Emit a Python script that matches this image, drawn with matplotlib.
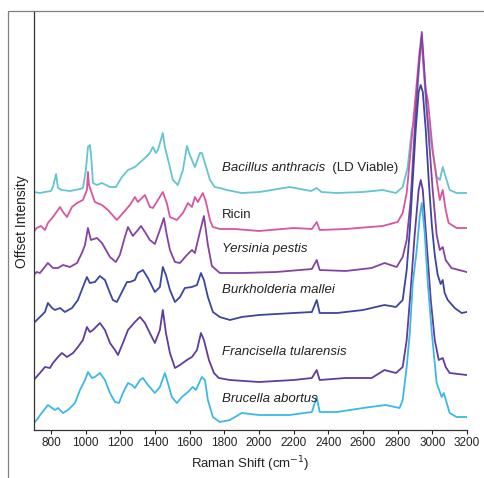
"""
Espectros Raman desplazados de agentes biologicos
"""
import matplotlib
matplotlib.use("Agg")
import matplotlib.pyplot as plt
from matplotlib.lines import Line2D

plt.rcParams['font.family'] = ['Liberation Sans', 'DejaVu Sans']

# Bacillus anthracis (LD Viable)
ba_x = [700, 736, 765, 800, 811, 829, 840, 863, 909, 967, 984, 1001, 1013, 1024, 1032, 1042,
        1065, 1094, 1140, 1174, 1209, 1244, 1284, 1342, 1370, 1388, 1405, 1417, 1445, 1457,
        1480, 1503, 1532, 1561, 1584, 1601, 1630, 1659, 1670, 1688, 1717, 1745, 1774, 1814,
        1900, 2004, 2177, 2300, 2333, 2360, 2448, 2600, 2713, 2790, 2829, 2858, 2881, 2898,
        2916, 2933, 2939, 2950, 2968, 2997, 3025, 3043, 3060, 3077, 3100, 3140, 3198]
ba_y = [238, 237, 238, 239, 243, 256, 242, 240, 239, 241, 242, 260, 283, 285, 273, 247,
        245, 247, 243, 243, 253, 260, 263, 272, 277, 283, 277, 280, 297, 283,
        267, 250, 245, 260, 284, 275, 263, 277, 277, 267, 250, 243, 242, 240,
        237, 238, 243, 239, 242, 238, 237, 238, 240, 237, 243, 263, 300, 310,
        343, 390, 393, 360, 317, 283, 253, 250, 263, 253, 240, 237, 237]

# Ricin
ri_x = [700, 717, 742, 765, 782, 811, 852, 869, 892, 921, 950, 984, 1007, 1013, 1019, 1053,
        1094, 1128, 1180, 1215, 1255, 1284, 1301, 1342, 1370, 1388, 1417, 1445, 1468, 1486,
        1526, 1561, 1590, 1613, 1630, 1647, 1676, 1694, 1717, 1734, 1774, 1860, 2000, 2200,
        2305, 2333, 2350, 2500, 2713, 2800, 2829, 2852, 2870, 2887, 2910, 2927, 2939, 2962,
        2974, 3002, 3031, 3043, 3060, 3077, 3094, 3140, 3198]
ri_y = [198, 202, 204, 200, 207, 213, 223, 218, 213, 223, 227, 230, 240, 258, 245, 228,
        225, 220, 210, 217, 225, 233, 228, 235, 223, 222, 230, 238, 227, 213,
        210, 217, 227, 223, 233, 228, 237, 228, 210, 203, 201, 201, 199, 202,
        201, 208, 200, 201, 204, 208, 217, 237, 270, 303, 347, 380, 385, 340,
        330, 280, 243, 230, 240, 220, 207, 202, 202]

# Yersinia pestis
ye_x = [700, 717, 736, 782, 811, 840, 869, 909, 950, 978, 996, 1013, 1030, 1065, 1094, 1140,
        1174, 1197, 1226, 1244, 1272, 1301, 1319, 1342, 1370, 1399, 1428, 1451, 1468, 1486,
        1515, 1544, 1584, 1613, 1630, 1659, 1682, 1705, 1728, 1774, 1900, 2100, 2305, 2333,
        2350, 2500, 2650, 2724, 2794, 2829, 2852, 2875, 2898, 2916, 2939, 2950, 2968, 2985,
        3002, 3014, 3025, 3043, 3060, 3077, 3110, 3198]
ye_y = [155, 158, 157, 167, 162, 162, 165, 163, 167, 177, 185, 202, 190, 192, 187, 173,
        168, 175, 193, 203, 194, 200, 204, 198, 190, 186, 200, 212, 195, 180,
        168, 167, 175, 180, 177, 198, 214, 185, 164, 157, 157, 158, 161, 170,
        160, 159, 162, 167, 163, 173, 190, 230, 300, 350, 398, 370, 320, 280,
        240, 217, 195, 180, 183, 170, 162, 158]

# Burkholderia mallei
bu_x = [700, 736, 765, 782, 806, 823, 852, 880, 921, 955, 984, 1007, 1024, 1053, 1082, 1111,
        1140, 1157, 1180, 1215, 1238, 1255, 1284, 1301, 1330, 1359, 1399, 1428, 1445, 1463,
        1486, 1515, 1544, 1572, 1613, 1642, 1665, 1682, 1705, 1734, 1774, 1832, 1900, 2000,
        2200, 2305, 2333, 2350, 2450, 2600, 2724, 2790, 2829, 2852, 2870, 2887, 2904, 2921,
        2933, 2945, 2962, 2979, 2997, 3014, 3031, 3048, 3060, 3071, 3089, 3129, 3169, 3198]
bu_y = [107, 113, 118, 127, 122, 120, 122, 118, 122, 130, 143, 153, 147, 148, 154, 150,
        137, 130, 128, 140, 148, 148, 150, 157, 160, 152, 138, 143, 163, 155,
        140, 128, 133, 142, 143, 145, 157, 150, 133, 118, 113, 110, 113, 115,
        117, 118, 130, 117, 117, 120, 125, 123, 130, 160, 200, 250, 300, 338,
        345, 338, 300, 250, 205, 175, 155, 146, 150, 137, 130, 122, 117, 118]

# Francisella tularensis
fr_x = [700, 736, 765, 794, 811, 840, 863, 892, 927, 955, 984, 1007, 1024, 1042, 1082, 1111,
        1140, 1169, 1186, 1215, 1244, 1284, 1313, 1342, 1370, 1399, 1428, 1445, 1463, 1486,
        1515, 1544, 1584, 1613, 1642, 1665, 1682, 1711, 1740, 1768, 1832, 2000, 2200, 2305,
        2333, 2350, 2500, 2650, 2724, 2790, 2829, 2852, 2875, 2898, 2921, 2933, 2945, 2968,
        2991, 3014, 3037, 3060, 3077, 3100, 3198]
fr_y = [50, 57, 63, 62, 67, 73, 77, 73, 77, 83, 90, 103, 98, 100, 107, 100,
        87, 80, 75, 87, 100, 108, 113, 107, 97, 87, 100, 120, 97, 77,
        62, 65, 70, 73, 80, 97, 90, 70, 57, 52, 50, 48, 50, 52,
        60, 50, 52, 52, 60, 57, 63, 90, 140, 195, 240, 250, 240, 185,
        130, 90, 70, 72, 63, 57, 55]

# Brucella abortus
br_x = [700, 717, 746, 782, 806, 823, 840, 869, 898, 938, 967, 996, 1013, 1036, 1053, 1082,
        1111, 1140, 1169, 1192, 1215, 1244, 1267, 1284, 1313, 1330, 1359, 1399, 1428, 1457,
        1474, 1497, 1526, 1555, 1590, 1618, 1636, 1670, 1688, 1705, 1734, 1774, 1832, 1900,
        2000, 2177, 2305, 2333, 2350, 2450, 2600, 2730, 2811, 2829, 2852, 2870, 2887, 2910,
        2927, 2939, 2956, 2974, 2997, 3025, 3054, 3066, 3083, 3100, 3140, 3198]
br_y = [7, 10, 17, 25, 22, 20, 22, 17, 20, 27, 40, 50, 58, 52, 53, 57,
        50, 37, 28, 27, 37, 47, 45, 42, 50, 52, 45, 37, 43, 57,
        47, 33, 27, 33, 38, 43, 40, 53, 50, 30, 13, 8, 10, 17,
        15, 15, 18, 33, 18, 18, 22, 25, 22, 30, 63, 97, 147, 180,
        213, 227, 197, 147, 97, 47, 33, 37, 27, 17, 13, 13]

names = ["Bacillus anthracis", "Ricin", "Yersinia pestis", "Burkholderia mallei",
         "Francisella tularensis", "Brucella abortus"]
ticks = [800, 1000, 1200, 1400, 1600, 1800, 2000, 2200, 2400, 2600, 2800, 3000, 3200]


def plot_spectra():
    """
    Dibuja los espectros desplazados con su etiqueta
    """
    series = [(ba_x, ba_y), (ri_x, ri_y), (ye_x, ye_y),
              (bu_x, bu_y), (fr_x, fr_y), (br_x, br_y)]
    colors = ["#62c5cf", "#d8559f", "#8443a3", "#3c45a0", "#603c9e", "#3cb8e8"]
    label_y = [262, 215, 181, 140, 78, 31]   # posicion vertical de cada etiqueta
    italic = [True, False, True, True, True, True]

    fig = plt.figure(figsize=(4.85, 4.78), dpi=100)
    ax = fig.add_axes([33.7 / 485, 48 / 478, (467 - 33.7) / 485, 419 / 478])

    for (x, y), c in zip(series, colors):
        ax.plot(x, y, color=c, lw=1.3, solid_joinstyle='round')

    for name, ly, it in zip(names, label_y, italic):
        t = ax.text(1785, ly, name, style='italic' if it else 'normal',
                    fontsize=9.5, color='#222222', va='center')
        if name.startswith("Bacillus"):
            ax.annotate("  (LD Viable)", xy=(1, 0), xycoords=t, va='bottom',
                        fontsize=9.5, color='#222222')

    ax.set_xlim(700, 3200)
    ax.set_ylim(0, 419)
    ax.set_xticks(ticks)
    ax.set_yticks([])
    ax.tick_params(axis='x', direction='out', length=3, width=0.8,
                   labelsize=8.5, colors='#222222', pad=2)
    for s in ['top', 'right']:
        ax.spines[s].set_visible(False)
    for s in ['left', 'bottom']:
        ax.spines[s].set_color('#333333')
        ax.spines[s].set_linewidth(0.9)

    ax.set_xlabel("Raman Shift (cm$^{-1}$)", fontsize=9.5, color='#222222', labelpad=4)
    fig.text(22 / 485, 1 - 222 / 478, "Offset Intensity", rotation=90,
             ha='center', va='center', fontsize=10, color='#222222')

    # marco exterior de la figura
    fig.add_artist(Line2D([8 / 485, 8 / 485, 1.01], [-0.01, 1 - 11 / 478, 1 - 11 / 478],
                          transform=fig.transFigure, color='#808080', lw=0.9))

    fig.savefig("out.png", dpi=100)


if __name__ == '__main__':
    plot_spectra()
